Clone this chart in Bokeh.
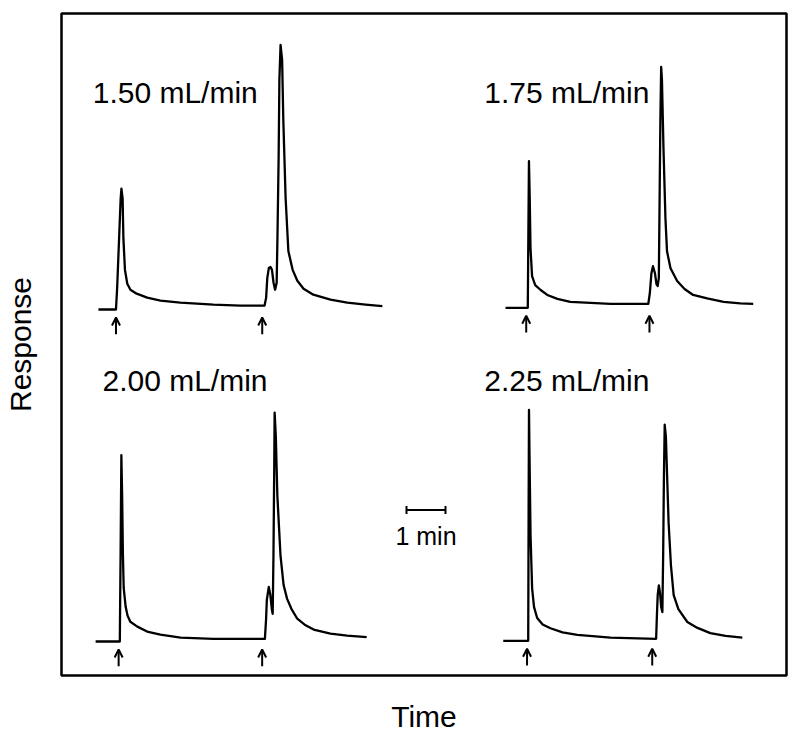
from bokeh.plotting import figure
from bokeh.models import Range1d, FixedTicker, Label, Arrow, OpenHead, ColumnDataSource
from bokeh.embed import file_html
from bokeh.resources import INLINE

# ---------------- data ----------------
# time in minutes after first injection, response in arbitrary units
flow_labels = ["1.50 mL/min", "1.75 mL/min", "2.00 mL/min", "2.25 mL/min"]

t_150 = [-0.45, 0.00, 0.03, 0.08, 0.12, 0.14, 0.17, 0.19, 0.23, 0.29, 0.37, 0.53, 0.80,
         1.14, 1.65, 2.50, 3.19, 3.81, 3.85, 3.88, 3.92, 3.96, 4.00, 4.04, 4.08, 4.12,
         4.14, 4.17, 4.19, 4.22, 4.26, 4.29, 4.35, 4.42, 4.53, 4.65, 4.81, 5.06, 5.50,
         5.93, 6.40, 6.83]
r_150 = [0, 0, 22, 72, 112, 122, 112, 72, 40, 26, 20, 16, 12,
         9, 7, 5, 4, 4, 12, 32, 42, 43, 40, 27, 20, 27,
         72, 152, 232, 267, 252, 192, 112, 59, 40, 29, 21, 15, 10,
         7, 5, 3.4]
inj_150 = [0.0, 3.75]

t_175 = [-0.57, 0.00, 0.01, 0.03, 0.05, 0.07, 0.11, 0.19, 0.33, 0.50, 0.76, 1.09, 1.61,
         2.12, 3.09, 3.13, 3.17, 3.21, 3.26, 3.30, 3.33, 3.36, 3.38, 3.40, 3.42, 3.44,
         3.48, 3.53, 3.57, 3.66, 3.83, 4.02, 4.24, 4.60, 5.02, 5.45, 5.78]
r_175 = [0, 0, 50, 148, 110, 60, 32, 23, 18, 13, 9, 6, 5,
         4, 4, 15, 35, 42, 35, 24, 22, 30, 110, 190, 243, 230,
         160, 90, 57, 40, 27, 19, 13, 9.5, 6, 4.5, 4]
inj_175 = [-0.04, 3.12]

t_200 = [-0.62, 0.00, 0.02, 0.04, 0.06, 0.08, 0.10, 0.15, 0.20, 0.27, 0.45, 0.70, 1.04,
         1.56, 2.40, 3.72, 3.75, 3.77, 3.82, 3.86, 3.90, 3.92, 3.94, 3.96, 3.97, 4.00,
         4.04, 4.12, 4.20, 4.29, 4.40, 4.55, 4.74, 4.97, 5.40, 5.83, 6.33]
r_200 = [0, 0, 87, 188, 147, 87, 54, 35, 26, 20, 15, 10, 7,
         4, 2.7, 2.7, 22, 42, 55, 47, 32, 28, 87, 177, 231, 207,
         147, 87, 57, 43, 33, 23, 17, 12, 8, 6, 4.4]
inj_200 = [-0.03, 3.65]

t_225 = [-0.64, 0.00, 0.01, 0.02, 0.03, 0.06, 0.10, 0.15, 0.23, 0.37, 0.57, 0.88, 1.26,
         2.11, 3.28, 3.30, 3.32, 3.35, 3.38, 3.41, 3.44, 3.46, 3.48, 3.50, 3.53, 3.57,
         3.60, 3.66, 3.73, 3.85, 4.08, 4.34, 4.67, 5.06, 5.49]
r_225 = [0, 0, 126, 233, 196, 106, 53, 34, 23, 16.5, 12.7, 8.5, 6,
         3.3, 2, 26, 46, 56, 48, 34, 29, 86, 166, 218, 206, 156,
         119, 76, 46, 32, 19, 13, 7.7, 5, 3.3]
inj_225 = [-0.03, 3.18]

scale_bar_min = 1.0
scale_bar_text = "1 min"

# ---------------- layout ----------------
FONT = "Liberation Sans"
panels = [
    # (times, responses, injections, x offset [min], y offset, label x, label y)
    (t_150, r_150, inj_150, 1.397, 369.3, 0.80, 588.0),
    (t_175, r_175, inj_175, 11.956, 371.0, 10.84, 588.0),
    (t_200, r_200, inj_200, 1.495, 34.3, 1.05, 297.5),
    (t_225, r_225, inj_225, 11.967, 35.0, 10.84, 297.5),
]

p = figure(width=792, height=735, output_backend="svg", toolbar_location=None,
           x_range=Range1d(0, 725 / 39.0), y_range=Range1d(0, 668),
           min_border_left=61, min_border_right=6, min_border_top=13, min_border_bottom=54)
p.background_fill_color = "white"
p.border_fill_color = "white"
p.outline_line_color = "black"
p.outline_line_width = 2.5
p.grid.visible = False

for ax in (p.xaxis[0], p.yaxis[0]):
    ax.ticker = FixedTicker(ticks=[])
    ax.axis_line_color = None
    ax.major_tick_line_color = None
    ax.minor_tick_line_color = None
    ax.major_label_text_font_size = "0px"
    ax.axis_label_text_font = FONT
    ax.axis_label_text_font_size = "30px"
    ax.axis_label_text_font_style = "normal"
    ax.axis_label_text_color = "black"
p.xaxis.axis_label = "Time"
p.yaxis.axis_label = "Response"
p.xaxis.axis_label_standoff = 24
p.yaxis.axis_label_standoff = 25

for (tt, rr, inj, x0, y0, lx, ly), lab in zip(panels, flow_labels):
    xs = [x0 + t for t in tt]
    ys = [y0 + r for r in rr]
    p.line(xs, ys, line_color="black", line_width=2.3, line_join="round")
    src = ColumnDataSource(dict(xa=[x0 + t for t in inj], ya=[y0 - 25] * len(inj),
                                xb=[x0 + t for t in inj], yb=[y0 - 8] * len(inj)))
    p.add_layout(Arrow(source=src, x_start="xa", y_start="ya", x_end="xb", y_end="yb",
                       line_color="black", line_width=2,
                       end=OpenHead(size=8, line_width=2, line_color="black")))
    p.add_layout(Label(x=lx, y=ly, text=lab, text_font=FONT, text_font_size="30px",
                       text_color="black", text_align="left", text_baseline="alphabetic"))

# scale bar (1 min)
sb_x0 = 8.846
sb_y = 167.0
p.line([sb_x0, sb_x0 + scale_bar_min], [sb_y, sb_y], line_color="black", line_width=2)
p.segment(x0=[sb_x0, sb_x0 + scale_bar_min], y0=[sb_y - 4, sb_y - 4],
          x1=[sb_x0, sb_x0 + scale_bar_min], y1=[sb_y + 4, sb_y + 4],
          line_color="black", line_width=2)
p.add_layout(Label(x=sb_x0 + scale_bar_min / 2, y=141.0, text=scale_bar_text, text_font=FONT,
                   text_font_size="25px", text_color="black", text_align="center",
                   text_baseline="alphabetic"))

open("out.html", "w").write(file_html(p, INLINE))
